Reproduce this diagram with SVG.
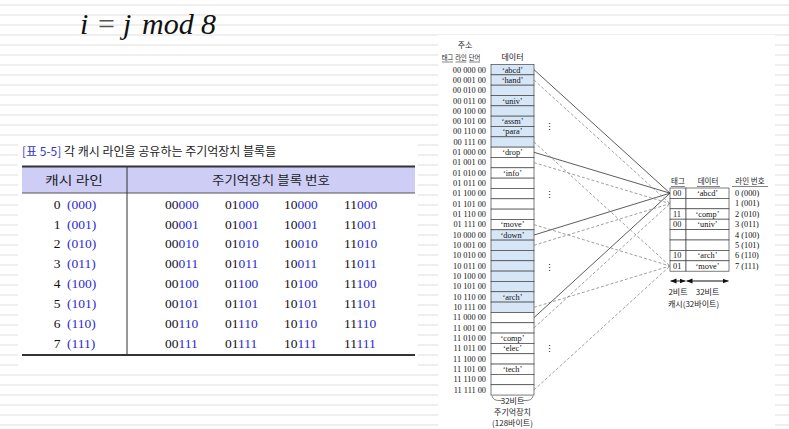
<svg xmlns="http://www.w3.org/2000/svg" width="789" height="429" viewBox="0 0 789 429">
<defs>
<pattern id="stripes" x="0" y="0" width="10" height="10" patternUnits="userSpaceOnUse">
<rect x="0" y="4" width="10" height="2" fill="#efefef"/>
</pattern>
<marker id="ah" viewBox="0 0 6 6" refX="6" refY="3" markerWidth="6" markerHeight="6" orient="auto-start-reverse" markerUnits="userSpaceOnUse">
<path d="M0,0.5 L6,3 L0,5.5 Z" fill="#111"/>
</marker>
<style>
.kr{font-family:"Noto Sans CJK KR","Noto Sans",sans-serif;fill:#222}
.ser{font-family:"Liberation Serif","DejaVu Serif",serif;fill:#111}
.blue{fill:#2a2ad8}
.th{font-size:12.5px;text-anchor:middle}
.td{font-size:13.5px}
.addr{font-size:8.3px;text-anchor:end}
.dat{font-size:8.3px;text-anchor:middle}
.mb{fill:#d6e6f6;stroke:#444;stroke-width:0.7}
.mw{fill:#fff;stroke:#444;stroke-width:0.7}
.cc{fill:#fff;stroke:#444;stroke-width:0.7}
.sol{stroke:#333;stroke-width:0.8;fill:none}
.dsh{stroke:#777;stroke-width:0.7;fill:none;stroke-dasharray:3 2}
.ul{stroke:#333;stroke-width:0.6}
</style>
</defs>
<rect x="0" y="0" width="789" height="429" fill="#fff"/>
<rect x="0" y="0" width="789" height="429" fill="url(#stripes)"/>
<rect x="18" y="138" width="400" height="228" fill="#fff"/>
<rect x="438" y="35" width="337" height="394" fill="#fff"/>

<g id="title" font-family="Liberation Serif, serif" font-size="30" fill="#111">
<text x="80" y="34" font-style="italic">i</text>
<text x="98" y="34" fill="#555">=</text>
<text x="123" y="34" font-style="italic">j</text>
<text x="142" y="34" font-style="italic">mod</text>
<text x="201" y="34" font-style="italic">8</text>
</g>

<g id="table">
<text x="22" y="156" class="kr" font-size="12"><tspan fill="#3434c8">[표 5-5]</tspan> 각 캐시 라인을 공유하는 주기억장치 블록들</text>
<rect x="22" y="167" width="393" height="26" fill="#cdcdf5"/>
<line x1="22" y1="166.5" x2="415" y2="166.5" stroke="#333" stroke-width="2"/>
<line x1="22" y1="193" x2="415" y2="193" stroke="#555" stroke-width="1"/>
<line x1="127" y1="167" x2="127" y2="355" stroke="#333" stroke-width="1"/>
<line x1="22" y1="355" x2="415" y2="355" stroke="#333" stroke-width="2"/>
<text x="74" y="185" class="kr th" textLength="58" lengthAdjust="spacingAndGlyphs">캐시 라인</text>
<text x="271" y="185" class="kr th" textLength="118" lengthAdjust="spacingAndGlyphs">주기억장치 블록 번호</text>
<g class="ser td">
<text x="57" y="208.6" text-anchor="middle">0</text><text x="67" y="208.6" class="blue">(000)</text>
<text x="165" y="208.6">00<tspan class="blue">000</tspan></text><text x="225" y="208.6">01<tspan class="blue">000</tspan></text><text x="284" y="208.6">10<tspan class="blue">000</tspan></text><text x="344" y="208.6">11<tspan class="blue">000</tspan></text>
<text x="57" y="228.5" text-anchor="middle">1</text><text x="67" y="228.5" class="blue">(001)</text>
<text x="165" y="228.5">00<tspan class="blue">001</tspan></text><text x="225" y="228.5">01<tspan class="blue">001</tspan></text><text x="284" y="228.5">10<tspan class="blue">001</tspan></text><text x="344" y="228.5">11<tspan class="blue">001</tspan></text>
<text x="57" y="248.4" text-anchor="middle">2</text><text x="67" y="248.4" class="blue">(010)</text>
<text x="165" y="248.4">00<tspan class="blue">010</tspan></text><text x="225" y="248.4">01<tspan class="blue">010</tspan></text><text x="284" y="248.4">10<tspan class="blue">010</tspan></text><text x="344" y="248.4">11<tspan class="blue">010</tspan></text>
<text x="57" y="268.3" text-anchor="middle">3</text><text x="67" y="268.3" class="blue">(011)</text>
<text x="165" y="268.3">00<tspan class="blue">011</tspan></text><text x="225" y="268.3">01<tspan class="blue">011</tspan></text><text x="284" y="268.3">10<tspan class="blue">011</tspan></text><text x="344" y="268.3">11<tspan class="blue">011</tspan></text>
<text x="57" y="288.2" text-anchor="middle">4</text><text x="67" y="288.2" class="blue">(100)</text>
<text x="165" y="288.2">00<tspan class="blue">100</tspan></text><text x="225" y="288.2">01<tspan class="blue">100</tspan></text><text x="284" y="288.2">10<tspan class="blue">100</tspan></text><text x="344" y="288.2">11<tspan class="blue">100</tspan></text>
<text x="57" y="308.1" text-anchor="middle">5</text><text x="67" y="308.1" class="blue">(101)</text>
<text x="165" y="308.1">00<tspan class="blue">101</tspan></text><text x="225" y="308.1">01<tspan class="blue">101</tspan></text><text x="284" y="308.1">10<tspan class="blue">101</tspan></text><text x="344" y="308.1">11<tspan class="blue">101</tspan></text>
<text x="57" y="328" text-anchor="middle">6</text><text x="67" y="328" class="blue">(110)</text>
<text x="165" y="328">00<tspan class="blue">110</tspan></text><text x="225" y="328">01<tspan class="blue">110</tspan></text><text x="284" y="328">10<tspan class="blue">110</tspan></text><text x="344" y="328">11<tspan class="blue">110</tspan></text>
<text x="57" y="347.9" text-anchor="middle">7</text><text x="67" y="347.9" class="blue">(111)</text>
<text x="165" y="347.9">00<tspan class="blue">111</tspan></text><text x="225" y="347.9">01<tspan class="blue">111</tspan></text><text x="284" y="347.9">10<tspan class="blue">111</tspan></text><text x="344" y="347.9">11<tspan class="blue">111</tspan></text>
</g>
</g>

<g id="memory">
<text x="465" y="48" class="kr" font-size="8" text-anchor="middle">주소</text>
<text x="447.5" y="60" class="kr" font-size="6.3" text-anchor="middle">태그</text>
<text x="461" y="60" class="kr" font-size="6.3" text-anchor="middle">라인</text>
<text x="474.5" y="60" class="kr" font-size="6.3" text-anchor="middle">단어</text>
<line x1="442" y1="62" x2="453" y2="62" class="ul"/>
<line x1="455.5" y1="62" x2="466.5" y2="62" class="ul"/>
<line x1="469" y1="62" x2="480" y2="62" class="ul"/>
<text x="512.5" y="60" class="kr" font-size="8" text-anchor="middle">데이터</text>
<g>
<rect x="491" y="64.5" width="43" height="10.33" class="mb"/>
<rect x="491" y="74.83" width="43" height="10.33" class="mb"/>
<rect x="491" y="85.16" width="43" height="10.33" class="mb"/>
<rect x="491" y="95.49" width="43" height="10.33" class="mb"/>
<rect x="491" y="105.82" width="43" height="10.33" class="mb"/>
<rect x="491" y="116.15" width="43" height="10.33" class="mb"/>
<rect x="491" y="126.48" width="43" height="10.33" class="mb"/>
<rect x="491" y="136.81" width="43" height="10.33" class="mb"/>
<rect x="491" y="147.14" width="43" height="10.33" class="mw"/>
<rect x="491" y="157.47" width="43" height="10.33" class="mw"/>
<rect x="491" y="167.8" width="43" height="10.33" class="mw"/>
<rect x="491" y="178.13" width="43" height="10.33" class="mw"/>
<rect x="491" y="188.46" width="43" height="10.33" class="mw"/>
<rect x="491" y="198.79" width="43" height="10.33" class="mw"/>
<rect x="491" y="209.12" width="43" height="10.33" class="mw"/>
<rect x="491" y="219.45" width="43" height="10.33" class="mw"/>
<rect x="491" y="229.78" width="43" height="10.33" class="mb"/>
<rect x="491" y="240.11" width="43" height="10.33" class="mb"/>
<rect x="491" y="250.44" width="43" height="10.33" class="mb"/>
<rect x="491" y="260.77" width="43" height="10.33" class="mb"/>
<rect x="491" y="271.1" width="43" height="10.33" class="mb"/>
<rect x="491" y="281.43" width="43" height="10.33" class="mb"/>
<rect x="491" y="291.76" width="43" height="10.33" class="mb"/>
<rect x="491" y="302.09" width="43" height="10.33" class="mb"/>
<rect x="491" y="312.42" width="43" height="10.33" class="mw"/>
<rect x="491" y="322.75" width="43" height="10.33" class="mw"/>
<rect x="491" y="333.08" width="43" height="10.33" class="mw"/>
<rect x="491" y="343.41" width="43" height="10.33" class="mw"/>
<rect x="491" y="353.74" width="43" height="10.33" class="mw"/>
<rect x="491" y="364.07" width="43" height="10.33" class="mw"/>
<rect x="491" y="374.4" width="43" height="10.33" class="mw"/>
<rect x="491" y="384.73" width="43" height="10.33" class="mw"/>
</g>
<g class="ser addr">
<text x="486" y="72.5">00 000 00</text>
<text x="486" y="82.8">00 001 00</text>
<text x="486" y="93.1">00 010 00</text>
<text x="486" y="103.5">00 011 00</text>
<text x="486" y="113.8">00 100 00</text>
<text x="486" y="124.1">00 101 00</text>
<text x="486" y="134.4">00 110 00</text>
<text x="486" y="144.8">00 111 00</text>
<text x="486" y="155.1">01 000 00</text>
<text x="486" y="165.4">01 001 00</text>
<text x="486" y="175.8">01 010 00</text>
<text x="486" y="186.1">01 011 00</text>
<text x="486" y="196.4">01 100 00</text>
<text x="486" y="206.8">01 101 00</text>
<text x="486" y="217.1">01 110 00</text>
<text x="486" y="227.4">01 111 00</text>
<text x="486" y="237.8">10 000 00</text>
<text x="486" y="248.1">10 001 00</text>
<text x="486" y="258.4">10 010 00</text>
<text x="486" y="268.7">10 011 00</text>
<text x="486" y="279.1">10 100 00</text>
<text x="486" y="289.4">10 101 00</text>
<text x="486" y="299.7">10 110 00</text>
<text x="486" y="310.1">10 111 00</text>
<text x="486" y="320.4">11 000 00</text>
<text x="486" y="330.7">11 001 00</text>
<text x="486" y="341.1">11 010 00</text>
<text x="486" y="351.4">11 011 00</text>
<text x="486" y="361.7">11 100 00</text>
<text x="486" y="372.0">11 101 00</text>
<text x="486" y="382.4">11 110 00</text>
<text x="486" y="392.7">11 111 00</text>
</g>
<g class="ser dat">
<text x="512.5" y="72.5">‘abcd’</text>
<text x="512.5" y="82.8">‘hand’</text>
<text x="512.5" y="103.5">‘univ’</text>
<text x="512.5" y="124.1">‘assm’</text>
<text x="512.5" y="134.4">‘para’</text>
<text x="512.5" y="155.1">‘drop’</text>
<text x="512.5" y="175.8">‘info’</text>
<text x="512.5" y="227.4">‘move’</text>
<text x="512.5" y="237.8">‘down’</text>
<text x="512.5" y="299.7">‘arch’</text>
<text x="512.5" y="341.1">‘comp’</text>
<text x="512.5" y="351.4">‘elec’</text>
<text x="512.5" y="372.0">‘tech’</text>
</g>
<g class="ser" font-size="9" text-anchor="middle">
<text x="549" y="130">⋮</text>
<text x="549" y="198">⋮</text>
<text x="549" y="271">⋮</text>
<text x="549" y="352">⋮</text>
</g>
<path d="M492,396 Q493,400.5 499,400.5 L503,400.5 M522,400.5 L526,400.5 Q532,400.5 533,396" fill="none" stroke="#333" stroke-width="0.6"/>
<text x="512.5" y="404" class="kr" font-size="8" text-anchor="middle">32비트</text>
<text x="512.5" y="415" class="kr" font-size="8" text-anchor="middle">주기억장치</text>
<text x="512.5" y="426" class="kr" font-size="8" text-anchor="middle">(128바이트)</text>
</g>

<g id="cache">
<text x="678" y="184" class="kr" font-size="7.5" text-anchor="middle">태그</text>
<text x="708" y="184" class="kr" font-size="7.5" text-anchor="middle">데이터</text>
<text x="750" y="184" class="kr" font-size="7.5" text-anchor="middle">라인 번호</text>
<line x1="671" y1="186.5" x2="685" y2="186.5" class="ul"/>
<line x1="697" y1="186.5" x2="720" y2="186.5" class="ul"/>
<line x1="732" y1="186.5" x2="768" y2="186.5" class="ul"/>
<g>
<rect x="670" y="188" width="16" height="10.4" class="cc"/><rect x="686" y="188" width="43" height="10.4" class="cc"/>
<rect x="670" y="198.4" width="16" height="10.4" class="cc"/><rect x="686" y="198.4" width="43" height="10.4" class="cc"/>
<rect x="670" y="208.8" width="16" height="10.4" class="cc"/><rect x="686" y="208.8" width="43" height="10.4" class="cc"/>
<rect x="670" y="219.2" width="16" height="10.4" class="cc"/><rect x="686" y="219.2" width="43" height="10.4" class="cc"/>
<rect x="670" y="229.6" width="16" height="10.4" class="cc"/><rect x="686" y="229.6" width="43" height="10.4" class="cc"/>
<rect x="670" y="240" width="16" height="10.4" class="cc"/><rect x="686" y="240" width="43" height="10.4" class="cc"/>
<rect x="670" y="250.4" width="16" height="10.4" class="cc"/><rect x="686" y="250.4" width="43" height="10.4" class="cc"/>
<rect x="670" y="260.8" width="16" height="10.4" class="cc"/><rect x="686" y="260.8" width="43" height="10.4" class="cc"/>
</g>
<g class="ser" font-size="8.3">
<text x="673" y="196">00</text><text x="707.5" y="196" text-anchor="middle">‘abcd’</text>
<text x="673" y="216.8">11</text><text x="707.5" y="216.8" text-anchor="middle">‘comp’</text>
<text x="673" y="227.2">00</text><text x="707.5" y="227.2" text-anchor="middle">‘univ’</text>
<text x="673" y="258.4">10</text><text x="707.5" y="258.4" text-anchor="middle">‘arch’</text>
<text x="673" y="268.8">01</text><text x="707.5" y="268.8" text-anchor="middle">‘move’</text>
</g>
<g class="ser" font-size="8.3">
<text x="735" y="196">0 (000)</text>
<text x="735" y="206.4">1 (001)</text>
<text x="735" y="216.8">2 (010)</text>
<text x="735" y="227.2">3 (011)</text>
<text x="735" y="237.6">4 (100)</text>
<text x="735" y="248">5 (101)</text>
<text x="735" y="258.4">6 (110)</text>
<text x="735" y="268.8">7 (111)</text>
</g>
<line x1="670.5" y1="281" x2="685.5" y2="281" stroke="#111" stroke-width="1" marker-start="url(#ah)" marker-end="url(#ah)"/>
<line x1="686.5" y1="281" x2="728.5" y2="281" stroke="#111" stroke-width="1" marker-start="url(#ah)" marker-end="url(#ah)"/>
<text x="678" y="295" class="kr" font-size="8" text-anchor="middle">2비트</text>
<text x="707.5" y="295" class="kr" font-size="8" text-anchor="middle">32비트</text>
<text x="668" y="307" class="kr" font-size="8">캐시(32바이트)</text>
</g>

<g id="connectors">
<line x1="534" y1="69.7" x2="670" y2="193.2" class="sol"/>
<line x1="534" y1="152.3" x2="670" y2="193.2" class="sol"/>
<line x1="534" y1="235" x2="670" y2="193.2" class="sol"/>
<line x1="534" y1="317.6" x2="670" y2="193.2" class="sol"/>
<line x1="534" y1="80" x2="670" y2="203.6" class="dsh"/>
<line x1="534" y1="162.6" x2="670" y2="203.6" class="dsh"/>
<line x1="534" y1="245.3" x2="670" y2="203.6" class="dsh"/>
<line x1="534" y1="327.9" x2="670" y2="203.6" class="dsh"/>
<line x1="534" y1="142" x2="670" y2="266" class="dsh"/>
<line x1="534" y1="224.6" x2="670" y2="266" class="dsh"/>
<line x1="534" y1="307.3" x2="670" y2="266" class="dsh"/>
<line x1="534" y1="389.9" x2="670" y2="266" class="dsh"/>
</g>
</svg>
